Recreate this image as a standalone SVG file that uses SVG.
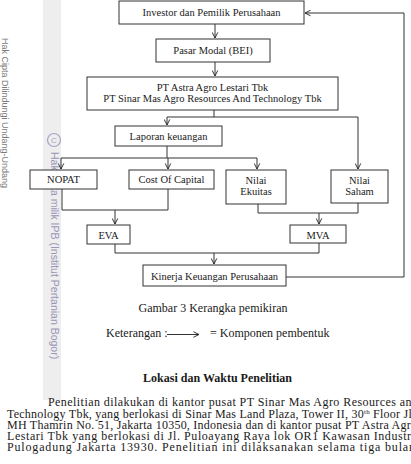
<svg xmlns="http://www.w3.org/2000/svg" width="411" height="464" viewBox="0 0 411 464">
<defs>
<marker id="ah" viewBox="0 0 10 10" refX="9" refY="5" markerWidth="7" markerHeight="7" orient="auto" markerUnits="userSpaceOnUse">
<path d="M1,1 L9,5 L1,9" fill="none" stroke="#222" stroke-width="1.3"/>
</marker>
<style>
.box{fill:#fff;stroke:#333;stroke-width:1}
.t{font-family:"Liberation Serif","Times New Roman",serif;font-size:10.5px;fill:#1a1a1a;text-anchor:middle}
.c{fill:none;stroke:#333;stroke-width:1}
.p{font-family:"Liberation Serif","Times New Roman",serif;font-size:12px;fill:#1a1a1a}
.wm{font-family:"Liberation Sans",Arial,sans-serif}
</style>
</defs>
<rect width="411" height="464" fill="#fff"/>
<rect x="43" y="0" width="18" height="400" fill="#eeeeee"/>
<g id="watermark">
<text class="wm" font-size="9px" fill="#7a7a7a" transform="translate(2,38) rotate(90)">Hak Cipta Dilindungi Undang-Undang</text>
<circle cx="54" cy="140" r="6.5" fill="none" stroke="#a8a3c2" stroke-width="1.2"/>
<text x="54" y="143" font-family="Liberation Sans,Arial,sans-serif" font-size="8px" fill="#a8a3c2" text-anchor="middle">C</text>
<text class="wm" font-size="10.5px" fill="#9b95b8" transform="translate(50.5,152) rotate(90)">Hak cipta milik IPB (Institut Pertanian Bogor)</text>
</g>
<g id="connectors">
<path class="c" d="M215,24 V38" marker-end="url(#ah)"/>
<path class="c" d="M215,62 V76" marker-end="url(#ah)"/>
<path class="c" d="M214,110 V117 M167,117 H358"/>
<path class="c" d="M167,117 V125" marker-end="url(#ah)"/>
<path class="c" d="M358,117 V169" marker-end="url(#ah)"/>
<path class="c" d="M167,146 V158 M61,158 H257"/>
<path class="c" d="M61,158 V169" marker-end="url(#ah)"/>
<path class="c" d="M168,158 V169" marker-end="url(#ah)"/>
<path class="c" d="M257,158 V169" marker-end="url(#ah)"/>
<path class="c" d="M62,189 V210 H168 V189"/>
<path class="c" d="M115,210 V224" marker-end="url(#ah)"/>
<path class="c" d="M258,204 V213 H358 V203"/>
<path class="c" d="M319,213 V224" marker-end="url(#ah)"/>
<path class="c" d="M115,244 V253 H319 V243"/>
<path class="c" d="M214,253 V264" marker-end="url(#ah)"/>
<path class="c" d="M286,277 H404 V13 H305" marker-end="url(#ah)"/>
</g>
<g id="investor"><rect class="box" x="119" y="1" width="185" height="23"/><text class="t" x="211.5" y="15.5">Investor dan Pemilik Perusahaan</text></g>
<g id="pasar"><rect class="box" x="156" y="39" width="114" height="23"/><text class="t" x="213" y="53.5">Pasar Modal (BEI)</text></g>
<g id="pt"><rect class="box" x="87" y="77" width="251" height="33"/><text class="t" x="212.5" y="90.5">PT Astra Agro Lestari Tbk</text><text class="t" x="212.5" y="101.5">PT Sinar Mas Agro Resources And Technology Tbk</text></g>
<g id="laporan"><rect class="box" x="115" y="126" width="107" height="20"/><text class="t" x="168.5" y="140">Laporan keuangan</text></g>
<g id="nopat"><rect class="box" x="30" y="170" width="67" height="19"/><text class="t" x="63.5" y="183">NOPAT</text></g>
<g id="coc"><rect class="box" x="129" y="170" width="85" height="19"/><text class="t" x="171.5" y="183">Cost Of Capital</text></g>
<g id="ekuitas"><rect class="box" x="226" y="170" width="60" height="34"/><text class="t" x="256" y="183.5">Nilai</text><text class="t" x="256" y="195">Ekuitas</text></g>
<g id="saham"><rect class="box" x="331" y="170" width="57" height="33"/><text class="t" x="359.5" y="183.5">Nilai</text><text class="t" x="359.5" y="195">Saham</text></g>
<g id="eva"><rect class="box" x="87" y="225" width="43" height="19"/><text class="t" x="108.5" y="239">EVA</text></g>
<g id="mva"><rect class="box" x="290" y="225" width="56" height="18"/><text class="t" x="318" y="239">MVA</text></g>
<g id="kinerja"><rect class="box" x="143" y="265" width="143" height="21"/><text class="t" x="214.5" y="279.5">Kinerja Keuangan Perusahaan</text></g>
<g id="caption">
<text class="p" x="213" y="312" font-size="11px" text-anchor="middle">Gambar 3 Kerangka pemikiran</text>
<text class="p" x="106" y="337" font-size="11px">Keterangan :</text>
<path d="M167,334.5 H199" class="c" marker-end="url(#ah)"/>
<text class="p" x="210" y="337" font-size="11px">= Komponen pembentuk</text>
<text class="p" x="217.5" y="382" font-weight="bold" text-anchor="middle">Lokasi dan Waktu Penelitian</text>
<text class="p" x="48" y="406" textLength="370" lengthAdjust="spacing">Penelitian dilakukan di kantor pusat PT Sinar Mas Agro Resources and</text>
<text class="p" x="7" y="417.5" textLength="408" lengthAdjust="spacing">Technology Tbk, yang berlokasi di Sinar Mas Land Plaza, Tower II, 30<tspan font-size="7px" dy="-4">th</tspan><tspan dy="4"> Floor Jl.</tspan></text>
<text class="p" x="7" y="429" textLength="410" lengthAdjust="spacing">MH Thamrin No. 51, Jakarta 10350, Indonesia dan di kantor pusat PT Astra Agro</text>
<text class="p" x="7" y="440" textLength="408" lengthAdjust="spacing">Lestari Tbk yang berlokasi di Jl. Puloayang Raya lok OR1 Kawasan Industri</text>
<text class="p" x="7" y="451" textLength="408" lengthAdjust="spacing">Pulogadung Jakarta 13930. Penelitian ini dilaksanakan selama tiga bulan</text>
</g>
</svg>
